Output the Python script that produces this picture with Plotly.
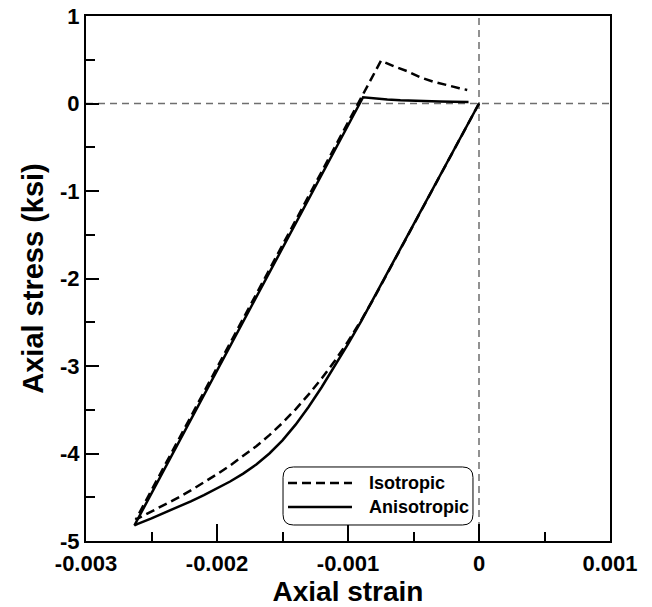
import plotly.graph_objects as go

# ---- data ----
iso_strain = [0.0, -0.0003, -0.0006, -0.0008, -0.0009, -0.0010, -0.0011, -0.0012, -0.0013, -0.0014,
              -0.0015, -0.0016, -0.0017, -0.0018, -0.0019, -0.0020, -0.0021, -0.0022,
              -0.0023, -0.0024, -0.0025, -0.0026, -0.00262,
              -0.000748, -0.00065, -0.00055, -0.00045, -0.00035, -0.00025, -0.00015, -0.00009]
iso_stress = [0.0, -0.83, -1.67, -2.22, -2.48, -2.72, -2.94, -3.14, -3.325, -3.495,
              -3.65, -3.79, -3.917, -4.032, -4.137, -4.237, -4.332, -4.422,
              -4.507, -4.587, -4.665, -4.741, -4.756,
              0.49, 0.425, 0.37, 0.30, 0.25, 0.21, 0.175, 0.155]

aniso_strain = [0.0, -0.0003, -0.0006, -0.0008, -0.0009, -0.0010, -0.0011, -0.0012, -0.0013, -0.0014,
                -0.0015, -0.0016, -0.0017, -0.0018, -0.0019, -0.0020, -0.0021, -0.0022,
                -0.0023, -0.0024, -0.0025, -0.0026, -0.00263,
                -0.000885, -0.0008, -0.0007, -0.0006, -0.0005, -0.0004, -0.0003, -0.0002, -0.00008]
aniso_stress = [0.0, -0.83, -1.67, -2.22, -2.49, -2.75, -3.00, -3.24, -3.465, -3.67,
                -3.85, -4.00, -4.125, -4.23, -4.32, -4.40, -4.476, -4.546,
                -4.614, -4.679, -4.741, -4.801, -4.82,
                0.072, 0.058, 0.047, 0.038, 0.031, 0.026, 0.022, 0.019, 0.016]

series_names = ["Isotropic", "Anisotropic"]

x_ticks = [-0.003, -0.002, -0.001, 0, 0.001]
x_ticktext = ["-0.003", "-0.002", "-0.001", "0", "0.001"]
y_ticks = [-5, -4, -3, -2, -1, 0, 1]
y_ticktext = ["-5", "-4", "-3", "-2", "-1", "0", "1"]

FONT = "Liberation Sans, Arial, sans-serif"
ISO_DASH = "9px,5px"

fig = go.Figure()
fig.add_trace(go.Scatter(x=iso_strain, y=iso_stress, mode="lines", name=series_names[0],
                         line=dict(color="black", width=2.5, dash=ISO_DASH)))
fig.add_trace(go.Scatter(x=aniso_strain, y=aniso_stress, mode="lines", name=series_names[1],
                         line=dict(color="black", width=2.5)))

# reference zero lines
fig.add_shape(type="line", xref="x", yref="paper", x0=0, x1=0, y0=0, y1=1,
              line=dict(color="#6e6e6e", width=1.5, dash="7px,5px"), layer="below")
fig.add_shape(type="line", xref="paper", yref="y", x0=0, x1=1, y0=0, y1=0,
              line=dict(color="#6e6e6e", width=1.5, dash="7px,5px"), layer="below")

# legend: rounded box, line samples and labels (paper coords)
L, R, B, T = 0.376, 0.7385, 0.0305, 0.141
rx, ry = 0.02, 0.02
path = (f"M {L+rx},{B} L {R-rx},{B} Q {R},{B} {R},{B+ry} L {R},{T-ry} Q {R},{T} {R-rx},{T} "
        f"L {L+rx},{T} Q {L},{T} {L},{T-ry} L {L},{B+ry} Q {L},{B} {L+rx},{B} Z")
fig.add_shape(type="path", xref="paper", yref="paper", path=path,
              line=dict(color="black", width=1), fillcolor="white", layer="above")
legend_rows = [0.1105, 0.0648]
legend_dash = [ISO_DASH, "solid"]
for name, yrow, dsh in zip(series_names, legend_rows, legend_dash):
    fig.add_shape(type="line", xref="paper", yref="paper", x0=0.3855, x1=0.5076,
                  y0=yrow, y1=yrow, line=dict(color="black", width=2.5, dash=dsh), layer="above")
    fig.add_annotation(xref="paper", yref="paper", x=0.5363, y=yrow, text=name,
                       showarrow=False, xanchor="left", yanchor="middle",
                       font=dict(family=FONT, size=18, color="black", weight="bold"))

axis_common = dict(showline=True, linecolor="black", linewidth=2, mirror=True,
                   showgrid=False, zeroline=False, ticks="inside", tickcolor="black",
                   tickwidth=2, automargin=False, ticklabeloverflow="allow",
                   tickfont=dict(family=FONT, size=22, color="black", weight="bold"))

fig.update_xaxes(range=[-0.003, 0.001], tickvals=x_ticks, ticktext=x_ticktext, ticklen=17,
                 ticklabelstandoff=2,
                 minor=dict(ticks="inside", ticklen=9, tickwidth=2, dtick=0.0005, tickcolor="black"),
                 title=dict(text="Axial strain", standoff=6,
                            font=dict(family=FONT, size=28, color="black", weight="bold")),
                 **axis_common)
fig.update_yaxes(range=[-5, 1], tickvals=y_ticks, ticktext=y_ticktext, ticklen=13,
                 minor=dict(ticks="inside", ticklen=9, tickwidth=2, dtick=0.5, tickcolor="black"),
                 title=dict(text="Axial stress (ksi)", standoff=8,
                            font=dict(family=FONT, size=29, color="black", weight="bold")),
                 **axis_common)

fig.update_layout(
    width=652, height=607,
    margin=dict(l=86, r=42, t=16, b=66),
    paper_bgcolor="white", plot_bgcolor="white",
    showlegend=False,
)

# remove the default 8px page margin so the figure fills the window exactly
fig.write_html("out.html",
               config={"displayModeBar": False},
               post_script="document.body.style.margin='0';document.body.style.overflow='hidden';")
